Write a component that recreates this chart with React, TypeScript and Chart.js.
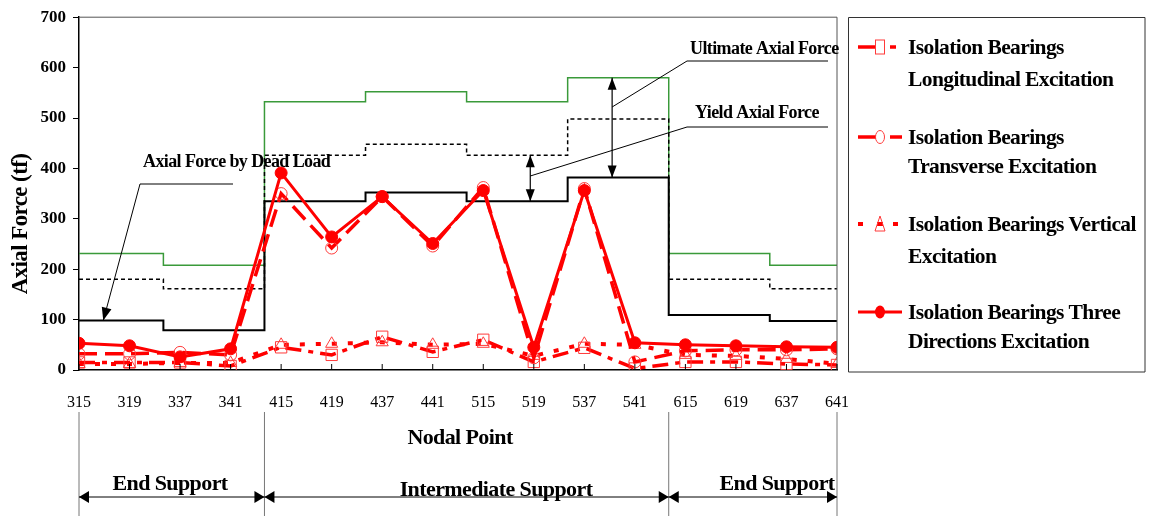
import React, { useEffect, useRef } from "react";
import { Chart, registerables } from "chart.js";

Chart.register(...registerables);

// ---------- data ----------
const nodeLabels = ["315", "319", "337", "341", "415", "419", "437", "441", "515", "519", "537", "541", "615", "619", "637", "641"];
const longitudinal = [15, 15, 15, 8, 45, 30, 66, 36, 60, 16, 44, 3, 16, 16, 12, 10];
const transverse = [32, 32, 35, 30, 350, 242, 344, 246, 362, 24, 360, 16, 38, 40, 40, 42];
const vertical = [12, 12, 14, 14, 50, 52, 55, 50, 52, 28, 52, 50, 30, 28, 22, 12];
const threeDirections = [53, 48, 26, 42, 391, 264, 344, 251, 356, 45, 356, 54, 50, 48, 46, 45];

const stepBounds = [0, 1.67, 3.67, 5.67, 7.67, 9.67, 11.67, 13.67, 15];
const deadLoad = [98, 79, 335, 352, 335, 382, 109, 97];
const yieldForce = [180, 161, 426, 448, 426, 498, 180, 161];
const ultimateForce = [231, 208, 532, 552, 532, 580, 231, 208];

const legendLines = [
  ["Isolation Bearings", "Longitudinal Excitation"],
  ["Isolation Bearings", "Transverse Excitation"],
  ["Isolation Bearings Vertical", "Excitation"],
  ["Isolation Bearings Three", "Directions Excitation"],
];

const FONT = "'Liberation Serif', 'DejaVu Serif', serif";
const RED = "#ff0000";
const MARK = "#ff3a3a";

function seriesPoints(vals: number[]) {
  return vals.map((v, i) => ({ x: i, y: v }));
}
function stepPoints(levels: number[]) {
  const pts: { x: number; y: number }[] = [];
  levels.forEach((l, i) => {
    pts.push({ x: stepBounds[i], y: l });
    pts.push({ x: stepBounds[i + 1], y: l });
  });
  return pts;
}

function arrowHead(ctx: CanvasRenderingContext2D, x: number, y: number, ang: number, len = 11, half = 5) {
  ctx.save();
  ctx.fillStyle = "#000";
  ctx.translate(x, y);
  ctx.rotate(ang);
  ctx.beginPath();
  ctx.moveTo(0, 0);
  ctx.lineTo(-len, -half);
  ctx.lineTo(-len, half);
  ctx.closePath();
  ctx.fill();
  ctx.restore();
}

function line(ctx: CanvasRenderingContext2D, pts: number[][], width = 1, color = "#000", dash: number[] = []) {
  ctx.save();
  ctx.strokeStyle = color;
  ctx.lineWidth = width;
  ctx.setLineDash(dash);
  ctx.beginPath();
  pts.forEach((p, i) => (i === 0 ? ctx.moveTo(p[0], p[1]) : ctx.lineTo(p[0], p[1])));
  ctx.stroke();
  ctx.restore();
}

function text(ctx: CanvasRenderingContext2D, s: string, x: number, y: number, size: number, align: CanvasTextAlign = "left", weight = "bold") {
  ctx.save();
  ctx.fillStyle = "#000";
  ctx.font = `${weight} ${size}px ${FONT}`;
  (ctx as any).letterSpacing = "-0.6px";
  ctx.textAlign = align;
  ctx.textBaseline = "middle";
  ctx.fillText(s, x, y);
  ctx.restore();
}

const decorPlugin = {
  id: "decor",
  afterDraw(chart: any) {
    const ctx: CanvasRenderingContext2D = chart.ctx;
    const xs = chart.scales.x;
    const ys = chart.scales.y;
    const ca = chart.chartArea;
    const px = (v: number) => xs.getPixelForValue(v);
    const py = (v: number) => ys.getPixelForValue(v);

    // plot frame
    line(ctx, [[ca.left, ca.top], [ca.right, ca.top], [ca.right, ca.bottom]], 1, "#555");
    // x tick marks (inside)
    nodeLabels.forEach((_, i) => line(ctx, [[px(i), ca.bottom], [px(i), ca.bottom - 6]], 1, "#000"));

    // dead load annotation
    text(ctx, "Axial Force by Dead Load", 143, 162, 18);
    const tipX = px(0.48), tipY = py(98);
    line(ctx, [[233, 184], [140, 184], [tipX, tipY]], 1);
    arrowHead(ctx, tipX, tipY, Math.atan2(tipY - 184, tipX - 140), 13, 5);

    // ultimate annotation
    const ux = px(10.55);
    line(ctx, [[ux, py(580)], [ux, py(382)]], 1.2);
    arrowHead(ctx, ux, py(580), -Math.PI / 2, 12, 4.5);
    arrowHead(ctx, ux, py(382), Math.PI / 2, 12, 4.5);
    line(ctx, [[ux, 107], [687, 61], [828, 61]], 1);
    text(ctx, "Ultimate Axial Force", 690, 49, 18);

    // yield annotation
    const yx = px(8.93);
    line(ctx, [[yx, py(426)], [yx, py(335)]], 1.2);
    arrowHead(ctx, yx, py(426), -Math.PI / 2, 12, 4.5);
    arrowHead(ctx, yx, py(335), Math.PI / 2, 12, 4.5);
    line(ctx, [[yx, 176], [687, 127], [828, 127]], 1);
    text(ctx, "Yield Axial Force", 695, 113, 18);

    // y title
    ctx.save();
    ctx.translate(21, 224);
    ctx.rotate(-Math.PI / 2);
    text(ctx, "Axial Force (tf)", 0, 0, 23, "center");
    ctx.restore();

    // x title
    text(ctx, "Nodal Point", 460, 438, 22, "center");

    // bottom region brackets
    const bx = [px(0), px(3.67), px(11.67), px(15)];
    bx.forEach((x) => line(ctx, [[x, 412], [x, 516]], 1, "#777"));
    const ay = 497;
    for (let i = 0; i < 3; i++) {
      line(ctx, [[bx[i], ay], [bx[i + 1], ay]], 1);
      arrowHead(ctx, bx[i], ay, Math.PI, 10, 6);
      arrowHead(ctx, bx[i + 1], ay, 0, 10, 6);
    }
    text(ctx, "End Support", 170, 484, 22, "center");
    text(ctx, "Intermediate Support", 496, 490, 22, "center");
    text(ctx, "End Support", 777, 484, 22, "center");

    // legend
    const L = 848.5, T = 17.5, R = 1145, B = 372;
    line(ctx, [[L, T], [R, T], [R, B], [L, B], [L, T]], 1, "#333");
    const ly = [47, 137, 224, 312];
    const sx0 = 858, sx1 = 902, mx = 880, tx = 908;
    // 1 longitudinal
    line(ctx, [[sx0, ly[0]], [876, ly[0]]], 3.5, RED);
    line(ctx, [[890, ly[0]], [896, ly[0]]], 3.5, RED);
    ctx.save(); ctx.strokeStyle = MARK; ctx.lineWidth = 1; ctx.strokeRect(mx - 4.5, ly[0] - 7, 9, 14); ctx.restore();
    // 2 transverse
    line(ctx, [[sx0, ly[1]], [876, ly[1]]], 3.5, RED);
    line(ctx, [[890, ly[1]], [902, ly[1]]], 3.5, RED);
    ctx.save(); ctx.strokeStyle = MARK; ctx.lineWidth = 1; ctx.beginPath(); ctx.ellipse(mx, ly[1], 4.5, 6.5, 0, 0, Math.PI * 2); ctx.stroke(); ctx.restore();
    // 3 vertical
    line(ctx, [[sx0, ly[2]], [863, ly[2]]], 4, RED);
    line(ctx, [[893, ly[2]], [898, ly[2]]], 4, RED);
    line(ctx, [[877, ly[2]], [883, ly[2]]], 4, RED);
    ctx.save(); ctx.strokeStyle = MARK; ctx.lineWidth = 1; ctx.beginPath(); ctx.moveTo(mx, ly[2] - 8); ctx.lineTo(mx + 5, ly[2] + 7); ctx.lineTo(mx - 5, ly[2] + 7); ctx.closePath(); ctx.stroke(); ctx.restore();
    // 4 three directions
    line(ctx, [[sx0, ly[3]], [sx1, ly[3]]], 3, RED);
    ctx.save(); ctx.fillStyle = RED; ctx.beginPath(); ctx.ellipse(mx, ly[3], 5, 6.5, 0, 0, Math.PI * 2); ctx.fill(); ctx.restore();
    const l2 = [80, 167, 257, 342];
    legendLines.forEach((ls, i) => {
      text(ctx, ls[0], tx, ly[i] + 1, 21.5);
      text(ctx, ls[1], tx, l2[i], 21.5);
    });
  },
};

export default function App() {
  const ref = useRef<HTMLCanvasElement>(null);
  useEffect(() => {
    document.body.style.margin = "0";
    const redCommon = { borderColor: RED, pointBorderColor: MARK, pointBorderWidth: 1, pointBackgroundColor: "rgba(255,255,255,0)", tension: 0 };
    const chart = new Chart(ref.current!, {
      type: "line",
      data: {
        datasets: [
          { label: "Isolation Bearings Three Directions Excitation", data: seriesPoints(threeDirections), ...redCommon, borderWidth: 3, pointStyle: "circle", pointRadius: 6, pointBackgroundColor: RED, pointBorderColor: RED },
          { label: "Isolation Bearings Transverse Excitation", data: seriesPoints(transverse), ...redCommon, borderWidth: 3.5, borderDash: [18, 8], pointStyle: "circle", pointRadius: 6 },
          { label: "Isolation Bearings Longitudinal Excitation", data: seriesPoints(longitudinal), ...redCommon, borderWidth: 3.5, borderDash: [16, 7, 5, 7], pointStyle: "rect", pointRadius: 8 },
          { label: "Isolation Bearings Vertical Excitation", data: seriesPoints(vertical), ...redCommon, borderWidth: 4, borderDash: [5, 11], pointStyle: "triangle", pointRadius: 7 },
          { label: "Dead Load", data: stepPoints(deadLoad), borderColor: "#000", borderWidth: 2, pointRadius: 0 },
          { label: "Yield", data: stepPoints(yieldForce), borderColor: "#000", borderWidth: 1.5, borderDash: [4, 3], pointRadius: 0 },
          { label: "Ultimate", data: stepPoints(ultimateForce), borderColor: "#3a9a3a", borderWidth: 1.5, pointRadius: 0 },
        ],
      },
      options: {
        animation: false,
        responsive: false,
        events: [],
        layout: { padding: { left: 0, top: 17, right: 312, bottom: 0 } },
        plugins: { legend: { display: false }, tooltip: { enabled: false } },
        scales: {
          x: {
            type: "linear",
            min: 0,
            max: 15,
            afterFit: (s: any) => { s.height = 146; },
            ticks: { stepSize: 1, autoSkip: false, maxRotation: 0, padding: 15, color: "#000", font: { family: FONT, size: 16 }, callback: (v: any) => nodeLabels[v] ?? "" },
            grid: { display: false },
            border: { display: true, color: "#000", width: 1.5 },
          },
          y: {
            min: 0,
            max: 700,
            afterFit: (s: any) => { s.width = 79; },
            ticks: { stepSize: 100, padding: 7, color: "#000", font: { family: FONT, size: 17, weight: "bold" } },
            grid: { display: true, drawOnChartArea: false, drawTicks: true, tickLength: 6, color: "#000" },
            border: { display: true, color: "#000", width: 1.5 },
          },
        },
      },
      plugins: [decorPlugin],
    });
    return () => chart.destroy();
  }, []);
  return (
    <div style={{ position: "fixed", left: 0, top: 0, width: 1149, height: 516, background: "#fff" }}>
      <canvas ref={ref} width={1149} height={516} style={{ display: "block" }} />
    </div>
  );
}
